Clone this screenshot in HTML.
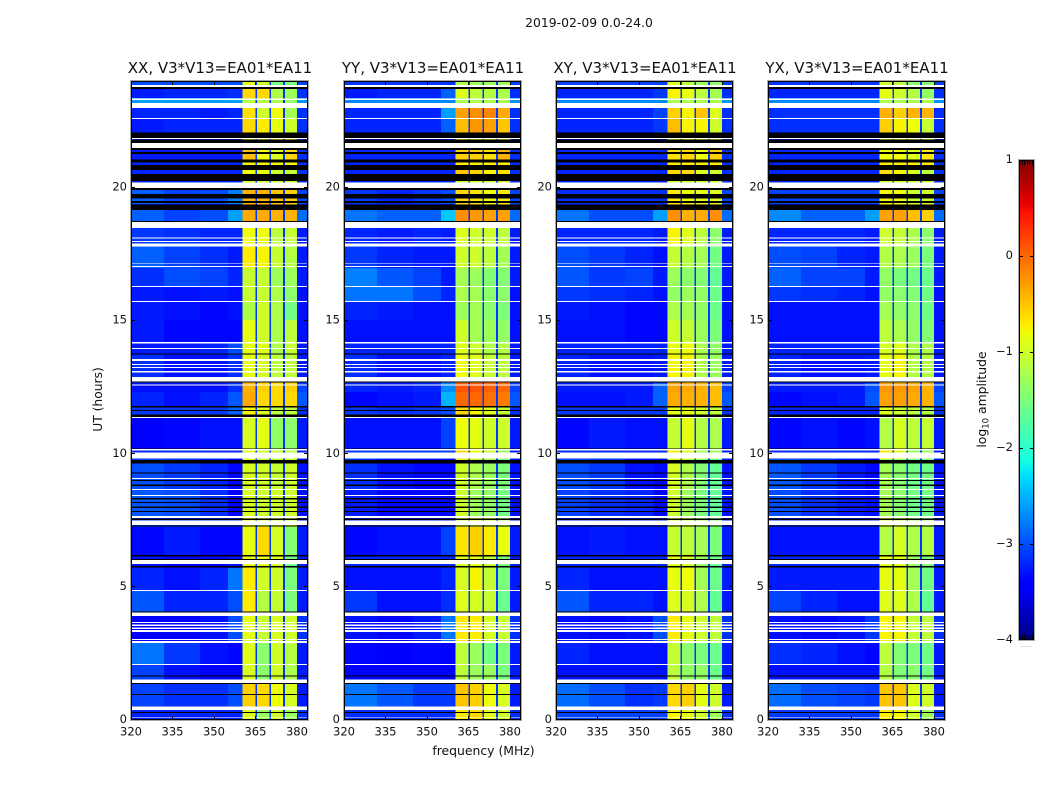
<!DOCTYPE html>
<html lang="en">
<head>
<meta charset="utf-8">
<title>2019-02-09 0.0-24.0</title>
<style>
html,body{margin:0;padding:0;background:#fff;width:1050px;height:800px;overflow:hidden}
svg{display:block}
text{font-family:"DejaVu Sans","Liberation Sans",sans-serif;fill:#111}
</style>
</head>
<body>
<svg id="chart" xmlns="http://www.w3.org/2000/svg" width="1050" height="800" viewBox="0 0 1050 800"></svg>
<script>
// ---------- data ----------
const figureTitle = "2019-02-09 0.0-24.0";
const panelNames = ["XX", "YY", "XY", "YX"];
const baselineName = "V3*V13=EA01*EA11";
const freqTicks = [320, 335, 350, 365, 380];
const hourTicks = [0, 5, 10, 15, 20];
const colorTicks = [-4, -3, -2, -1, 0, 1];

// frequency column edges (MHz): four background columns, then bands split by narrow gaps
const bgEdges = [320, 332, 345, 355, 360.4];
const bandEdges = [[360.4, 365], [365.5, 370], [370.6, 375], [375.6, 380]];
const gapEdges = [[365, 365.5], [370, 370.6], [375, 375.6]];
const rightEdges = [380, 384];
const gapValues = [-3.1];

// time row edges (hours UT)
const rowEdges = [0,.49,1.43,2.07,2.93,4.02,4.88,5.71,6.20,7.25,7.66,8.64,9.80,10.18,11.34,11.79,12.32,12.66,12.88,13.71,14.20,15.02,15.74,16.26,16.98,17.80,18.48,18.74,19.15,19.38,19.91,20.24,20.66,20.96,21.41,22.05,22.57,22.99,23.36,23.74,24];

// log10 amplitude of the channels above 380 MHz, per time row
const rightValues = [-3.15,-3.25,-3.25,-3.25,-3.15,-3.25,-3.25,-3.25,-3.25,-3.25,-3.3,-3.3,-3.25,-3.25,-3.15,-2.95,-3.05,-3.15,-3.25,-3.25,-3.3,-3.3,-3.3,-3.25,-3.25,-3.25,-3.25,-2.85,-3.15,-3.05,-3.15,-3.15,-3.15,-3.15,-3.15,-3.15,-3.15,-2.65,-3.15,-3.05];

// log10 amplitude per time row: 4 background columns then 4 band columns
const xxRows = [
[-3.2,-3.2,-3.2,-3.2,-0.9,-1.3,-1.0,-1.3],
[-3.05,-3.15,-3.15,-3.0,-0.55,-0.6,-0.8,-0.95],
[-3.05,-3.3,-3.4,-3.4,-0.95,-1.4,-1.0,-1.2],
[-2.8,-3.1,-3.3,-3.35,-0.9,-1.4,-1.0,-1.15],
[-3.4,-3.4,-3.3,-3.0,-0.85,-1.05,-0.95,-1.0],
[-2.95,-3.2,-3.2,-3.0,-0.7,-1.15,-1.05,-1.5],
[-3.2,-3.3,-3.2,-2.8,-0.7,-1.0,-1.0,-1.5],
[-3.3,-3.4,-3.4,-3.3,-0.8,-0.85,-0.9,-1.6],
[-3.35,-3.25,-3.35,-3.35,-0.85,-0.6,-0.95,-1.45],
[-3.1,-3.1,-3.1,-3.1,-0.8,-0.9,-1.0,-1.0],
[-2.95,-3.0,-3.15,-3.4,-0.95,-1.0,-1.0,-1.0],
[-3.0,-3.1,-3.2,-3.35,-0.95,-1.0,-1.05,-1.0],
[-3.2,-3.2,-3.2,-3.2,-0.9,-1.0,-1.0,-1.1],
[-3.4,-3.35,-3.3,-3.3,-0.95,-0.85,-1.35,-1.4],
[-3.1,-3.1,-3.1,-2.9,-0.75,-0.9,-1.1,-1.1],
[-3.2,-3.3,-3.2,-2.95,-0.35,-0.6,-0.6,-0.6],
[-3.3,-3.3,-3.3,-3.15,-0.4,-0.55,-0.6,-0.55],
[-3.1,-3.1,-3.1,-3.1,-0.6,-0.6,-0.6,-0.6],
[-3.15,-3.3,-3.3,-3.15,-0.85,-0.95,-1.1,-1.1],
[-3.25,-3.25,-3.2,-3.0,-0.85,-0.9,-1.2,-1.05],
[-3.25,-3.35,-3.35,-3.35,-0.85,-1.0,-1.2,-1.1],
[-3.25,-3.3,-3.35,-3.3,-1.2,-1.0,-1.2,-1.55],
[-3.25,-3.3,-3.25,-3.3,-1.05,-1.05,-1.2,-1.4],
[-3.15,-3.0,-3.05,-3.2,-1.05,-1.05,-1.3,-1.3],
[-2.9,-3.05,-3.15,-3.25,-0.7,-0.75,-1.05,-1.15],
[-3.1,-3.15,-3.2,-3.2,-0.8,-0.8,-1.1,-1.05],
[-3.2,-3.2,-3.2,-3.2,-1.0,-1.0,-1.0,-1.0],
[-2.9,-3.05,-3.0,-2.6,-0.35,-0.35,-0.4,-0.4],
[-3.2,-3.2,-3.2,-3.2,-0.4,-0.5,-0.5,-0.5],
[-2.9,-3.05,-3.0,-2.75,-0.4,-0.4,-0.5,-0.55],
[-3.2,-3.2,-3.2,-3.2,-1.0,-1.0,-1.0,-1.0],
[-3.2,-3.2,-3.2,-3.2,-0.8,-0.85,-1.0,-1.05],
[-3.2,-3.2,-3.2,-3.2,-0.75,-0.75,-0.75,-0.75],
[-3.25,-3.25,-3.25,-3.25,-0.45,-0.8,-0.9,-0.6],
[-3.2,-3.2,-3.2,-3.2,-0.7,-0.7,-0.7,-0.7],
[-3.25,-3.2,-3.2,-3.2,-0.6,-0.7,-0.85,-1.0],
[-3.2,-3.2,-3.25,-3.2,-0.65,-1.0,-0.8,-1.25],
[-2.6,-2.6,-2.6,-2.6,-1.1,-1.1,-1.2,-1.3],
[-3.25,-3.2,-3.2,-3.15,-0.6,-0.6,-1.2,-1.3],
[-3.0,-3.0,-3.0,-3.0,-0.9,-1.0,-1.5,-1.5]];

const yyRows = [
[-3.15,-3.15,-3.15,-3.15,-0.7,-0.6,-0.9,-1.0],
[-2.8,-2.95,-3.1,-3.1,-0.5,-0.55,-0.8,-0.95],
[-3.4,-3.4,-3.4,-3.4,-1.1,-1.3,-1.3,-1.5],
[-3.35,-3.4,-3.35,-3.4,-1.1,-1.3,-1.55,-1.5],
[-3.3,-3.35,-3.25,-2.8,-0.7,-0.7,-0.95,-1.05],
[-3.1,-3.3,-3.3,-3.15,-0.9,-0.95,-1.05,-1.6],
[-3.3,-3.3,-3.3,-3.2,-0.95,-0.75,-1.05,-1.5],
[-3.2,-3.2,-3.2,-3.2,-0.9,-0.85,-1.05,-1.5],
[-3.35,-3.3,-3.3,-3.05,-0.65,-0.55,-0.7,-0.85],
[-3.2,-3.2,-3.2,-3.2,-0.9,-0.9,-1.0,-1.1],
[-3.25,-3.35,-3.35,-3.35,-1.0,-1.3,-1.35,-1.55],
[-3.15,-3.3,-3.35,-3.35,-1.0,-1.2,-1.3,-1.5],
[-3.1,-3.1,-3.1,-3.1,-0.6,-0.8,-1.0,-1.3],
[-3.3,-3.3,-3.3,-3.05,-0.8,-0.85,-1.0,-1.0],
[-3.1,-3.15,-3.1,-3.0,-0.6,-0.75,-0.9,-1.05],
[-3.35,-3.3,-3.25,-2.5,0.0,0.0,-0.05,-0.1],
[-3.2,-3.25,-3.2,-2.7,0.1,0.1,0.05,0.0],
[-3.1,-3.2,-3.1,-2.7,-0.2,-0.2,-0.2,-0.2],
[-3.15,-3.3,-3.3,-3.2,-0.8,-0.9,-1.05,-1.1],
[-3.2,-3.2,-3.2,-3.2,-0.9,-1.0,-1.2,-1.15],
[-3.3,-3.3,-3.3,-3.3,-1.0,-1.25,-1.3,-1.35],
[-3.2,-3.25,-3.3,-3.3,-1.3,-1.25,-1.4,-1.5],
[-2.8,-2.8,-3.0,-3.2,-1.2,-1.25,-1.4,-1.4],
[-2.75,-2.95,-3.05,-3.25,-1.25,-1.3,-1.45,-1.45],
[-3.1,-3.2,-3.25,-3.25,-1.0,-1.0,-1.1,-1.25],
[-3.2,-3.25,-3.2,-3.25,-0.9,-1.0,-1.0,-1.1],
[-3.2,-3.2,-3.2,-3.2,-0.9,-0.9,-0.9,-0.9],
[-2.8,-2.9,-2.9,-2.4,-0.2,-0.25,-0.3,-0.3],
[-3.2,-3.2,-3.2,-3.2,-0.5,-0.5,-0.5,-0.5],
[-3.1,-3.2,-3.1,-3.0,-0.6,-0.65,-0.8,-0.7],
[-3.2,-3.2,-3.2,-3.2,-1.0,-1.0,-1.0,-1.0],
[-3.2,-3.2,-3.2,-3.2,-0.5,-0.55,-0.75,-0.65],
[-3.2,-3.2,-3.2,-3.2,-0.7,-0.7,-0.7,-0.7],
[-3.2,-3.2,-3.2,-3.2,-0.55,-0.55,-0.65,-0.4],
[-3.2,-3.2,-3.2,-3.2,-0.8,-0.8,-0.8,-0.8],
[-3.2,-3.2,-3.2,-2.9,-0.45,-0.25,-0.3,-0.5],
[-3.2,-3.2,-3.2,-2.6,-0.3,-0.2,-0.15,-0.35],
[-2.7,-2.7,-2.7,-2.7,-1.2,-1.2,-1.2,-1.2],
[-3.25,-3.2,-3.2,-2.9,-0.9,-1.1,-1.15,-1.2],
[-3.1,-3.1,-3.1,-3.1,-1.2,-1.3,-1.3,-1.3]];

const xyRows = [
[-3.05,-3.05,-3.05,-3.05,-0.75,-0.85,-1.0,-1.3],
[-2.85,-3.0,-3.15,-3.1,-0.6,-0.55,-0.85,-1.0],
[-3.3,-3.3,-3.3,-3.3,-1.1,-1.35,-1.35,-1.6],
[-3.2,-3.3,-3.3,-3.3,-1.05,-1.4,-1.5,-1.6],
[-3.3,-3.35,-3.3,-3.0,-0.7,-0.85,-1.0,-1.1],
[-2.95,-3.2,-3.2,-3.3,-0.9,-0.95,-1.2,-1.65],
[-3.2,-3.3,-3.3,-3.3,-0.85,-0.8,-1.25,-1.6],
[-3.2,-3.2,-3.2,-3.2,-0.85,-0.9,-1.3,-1.6],
[-3.3,-3.25,-3.3,-3.3,-1.05,-1.1,-1.25,-1.5],
[-3.2,-3.2,-3.2,-3.2,-0.9,-1.0,-1.2,-1.4],
[-3.05,-3.15,-3.2,-3.35,-1.0,-1.3,-1.5,-1.65],
[-3.0,-3.1,-3.3,-3.35,-0.95,-1.2,-1.45,-1.65],
[-3.2,-3.2,-3.2,-3.2,-0.7,-0.9,-1.2,-1.3],
[-3.35,-3.25,-3.3,-3.3,-1.05,-0.85,-1.15,-1.2],
[-3.1,-3.1,-3.1,-3.1,-0.85,-0.85,-1.0,-1.1],
[-3.3,-3.3,-3.25,-2.9,-0.35,-0.4,-0.4,-0.45],
[-3.25,-3.25,-3.25,-2.9,-0.3,-0.35,-0.4,-0.45],
[-3.2,-3.2,-3.2,-3.2,-0.6,-0.6,-0.6,-0.6],
[-3.2,-3.3,-3.3,-3.25,-0.75,-0.75,-1.2,-1.3],
[-3.2,-3.2,-3.2,-3.2,-0.85,-0.8,-1.2,-1.35],
[-3.3,-3.3,-3.35,-3.35,-1.0,-1.05,-1.3,-1.5],
[-3.25,-3.3,-3.35,-3.35,-1.2,-1.25,-1.35,-1.6],
[-3.1,-3.15,-3.2,-3.3,-1.35,-1.3,-1.35,-1.6],
[-2.95,-3.1,-3.05,-3.25,-1.3,-1.4,-1.45,-1.65],
[-3.0,-3.1,-3.2,-3.3,-1.05,-1.15,-1.25,-1.55],
[-3.2,-3.2,-3.2,-3.25,-0.75,-0.9,-1.1,-1.4],
[-3.2,-3.2,-3.2,-3.2,-0.8,-0.8,-0.8,-0.8],
[-2.8,-3.0,-3.0,-2.6,-0.2,-0.4,-0.35,-0.2],
[-3.2,-3.2,-3.2,-3.2,-0.5,-0.5,-0.5,-0.5],
[-3.15,-3.15,-3.15,-3.15,-0.7,-0.8,-0.85,-0.9],
[-3.2,-3.2,-3.2,-3.2,-1.0,-1.0,-1.0,-1.0],
[-3.2,-3.2,-3.2,-3.2,-0.6,-0.6,-0.9,-1.0],
[-3.2,-3.2,-3.2,-3.2,-0.7,-0.7,-0.7,-0.7],
[-3.2,-3.2,-3.2,-3.2,-0.65,-0.6,-0.8,-0.55],
[-3.2,-3.2,-3.2,-3.2,-0.9,-0.9,-0.9,-0.9],
[-3.2,-3.2,-3.2,-3.1,-0.45,-0.75,-0.75,-1.0],
[-3.2,-3.2,-3.2,-3.05,-0.55,-0.75,-0.5,-0.9],
[-2.7,-2.7,-2.7,-2.7,-1.2,-1.2,-1.2,-1.2],
[-3.2,-3.2,-3.2,-3.1,-0.75,-0.85,-1.1,-1.25],
[-3.05,-3.05,-3.05,-3.05,-0.9,-1.1,-1.3,-1.4]];

const yxRows = [
[-3.1,-3.1,-3.1,-3.1,-0.7,-0.75,-1.0,-1.3],
[-2.85,-3.0,-3.05,-3.1,-0.5,-0.5,-0.9,-1.0],
[-3.3,-3.3,-3.3,-3.3,-1.15,-1.45,-1.4,-1.55],
[-3.15,-3.2,-3.3,-3.35,-1.1,-1.45,-1.5,-1.55],
[-3.3,-3.35,-3.3,-3.1,-0.75,-0.75,-1.05,-1.1],
[-3.05,-3.2,-3.3,-3.3,-0.9,-0.9,-1.2,-1.65],
[-3.25,-3.25,-3.25,-3.25,-0.85,-0.85,-1.25,-1.55],
[-3.2,-3.2,-3.2,-3.2,-0.85,-0.9,-1.3,-1.5],
[-3.3,-3.3,-3.3,-3.3,-1.15,-0.95,-1.2,-1.15],
[-3.2,-3.2,-3.2,-3.2,-0.9,-1.0,-1.2,-1.3],
[-3.0,-3.15,-3.25,-3.3,-1.25,-1.4,-1.55,-1.55],
[-2.95,-3.1,-3.25,-3.35,-1.25,-1.4,-1.55,-1.55],
[-3.2,-3.2,-3.2,-3.2,-0.7,-0.9,-1.3,-1.3],
[-3.35,-3.3,-3.35,-3.3,-1.15,-0.95,-1.1,-1.05],
[-3.2,-3.2,-3.2,-3.2,-0.9,-1.0,-1.1,-1.2],
[-3.35,-3.3,-3.25,-2.95,-0.3,-0.3,-0.35,-0.4],
[-3.25,-3.25,-3.25,-3.0,-0.25,-0.25,-0.3,-0.4],
[-3.2,-3.2,-3.2,-3.2,-0.7,-0.7,-0.7,-0.7],
[-3.2,-3.3,-3.3,-3.25,-0.85,-0.75,-1.15,-1.15],
[-3.2,-3.2,-3.2,-3.2,-0.95,-0.9,-1.2,-1.2],
[-3.3,-3.3,-3.3,-3.3,-1.1,-1.2,-1.35,-1.45],
[-3.3,-3.3,-3.3,-3.3,-1.25,-1.35,-1.4,-1.55],
[-3.1,-3.15,-3.2,-3.3,-1.35,-1.4,-1.45,-1.55],
[-2.9,-3.05,-3.05,-3.25,-1.35,-1.5,-1.55,-1.6],
[-3.0,-3.05,-3.2,-3.25,-1.15,-1.2,-1.3,-1.5],
[-3.2,-3.2,-3.2,-3.25,-1.0,-1.05,-1.2,-1.4],
[-3.2,-3.2,-3.2,-3.2,-0.9,-0.9,-0.9,-0.9],
[-2.7,-2.9,-2.9,-2.6,-0.3,-0.3,-0.45,-0.55],
[-3.2,-3.2,-3.2,-3.2,-0.6,-0.6,-0.6,-0.6],
[-3.05,-3.05,-3.05,-3.05,-0.75,-0.8,-1.0,-1.0],
[-3.2,-3.2,-3.2,-3.2,-1.0,-1.0,-1.0,-1.0],
[-3.2,-3.2,-3.2,-3.2,-0.65,-0.75,-0.95,-1.1],
[-3.2,-3.2,-3.2,-3.2,-0.7,-0.7,-0.7,-0.7],
[-3.2,-3.2,-3.2,-3.2,-0.8,-0.8,-0.9,-0.7],
[-3.2,-3.2,-3.2,-3.2,-0.9,-0.9,-0.9,-0.9],
[-3.15,-3.15,-3.15,-3.15,-0.55,-0.75,-0.8,-1.05],
[-3.15,-3.15,-3.15,-3.15,-0.4,-0.55,-0.4,-0.4],
[-2.7,-2.7,-2.7,-2.7,-1.2,-1.2,-1.2,-1.2],
[-3.2,-3.2,-3.2,-3.2,-0.85,-1.0,-1.15,-1.35],
[-3.1,-3.1,-3.1,-3.1,-1.0,-1.1,-1.4,-1.45]];

// flagged time ranges (hours UT) shared by every panel
const whiteFlags = [[.09,.12],[.38,.50],[1.39,1.53],[2.07,2.11],[2.90,2.96],[3.00,3.05],[3.31,3.38],[3.42,3.47],[3.53,3.58],[3.64,3.69],[3.91,4.04],[4.85,4.88],[5.86,6.01],[7.32,7.49],[7.59,7.66],[8.41,8.45],[8.64,8.68],[9.05,9.09],[9.83,10.04],[10.13,10.17],[11.35,11.39],[12.56,12.61],[12.72,12.89],[13.06,13.10],[13.22,13.26],[13.34,13.38],[13.49,13.56],[13.93,13.98],[14.15,14.20],[15.70,15.74],[16.26,16.30],[17.01,17.05],[17.12,17.15],[17.79,17.89],[17.95,18.00],[18.08,18.13],[18.48,18.70],[19.98,20.18],[21.48,21.68],[21.82,21.86],[22.57,22.61],[22.99,23.18],[23.29,23.35],[23.77,23.85]];
const blackFlags = [[.26,.30],[.94,.98],[1.35,1.39],[1.64,1.68],[4.04,4.08],[5.72,5.78],[6.01,6.05],[6.15,6.19],[7.26,7.30],[7.51,7.56],[7.81,7.85],[7.97,8.01],[8.15,8.19],[8.29,8.33],[8.79,8.84],[8.98,9.01],[9.25,9.29],[9.64,9.77],[10.17,10.20],[11.39,11.48],[11.60,11.64],[11.74,11.79],[12.67,12.72],[13.72,13.77],[18.70,18.75],[19.15,19.37],[19.42,19.49],[19.58,19.76],[19.91,19.98],[20.24,20.51],[20.66,20.85],[20.93,21.06],[21.26,21.33],[21.41,21.48],[21.68,21.81],[21.85,22.06],[23.70,23.77]];

// ---------- layout ----------
const panelRows = [xxRows, yyRows, xyRows, yxRows];
const panelLefts = [131, 344, 556, 768];
const panelWidth = 177;
const plotTop = 81;
const plotBottom = 720;
const freqMin = 320, freqMax = 384;
const hourMin = 0, hourMax = 24;
const cbLeft = 1019, cbRight = 1034, cbTop = 160, cbBottom = 640;
const cbMin = -4, cbMax = 1;

const svg = document.getElementById('chart');
const NS = 'http://www.w3.org/2000/svg';

function xScale(left, f) { return left + (f - freqMin) / (freqMax - freqMin) * panelWidth; }
function yScale(h) { return plotBottom - (h - hourMin) / (hourMax - hourMin) * (plotBottom - plotTop); }
function cbScale(v) { return cbBottom - (v - cbMin) / (cbMax - cbMin) * (cbBottom - cbTop); }

function lerpStops(t, stops) {
  if (t <= stops[0][0]) return stops[0][1];
  for (let i = 1; i < stops.length; i++) {
    if (t <= stops[i][0]) {
      const a = stops[i - 1], b = stops[i];
      return a[1] + (b[1] - a[1]) * (t - a[0]) / (b[0] - a[0]);
    }
  }
  return stops[stops.length - 1][1];
}
const jetR = [[0, 0], [.35, 0], [.66, 1], [.89, 1], [1, .5]];
const jetG = [[0, 0], [.125, 0], [.375, 1], [.64, 1], [.91, 0], [1, 0]];
const jetB = [[0, .5], [.11, 1], [.34, 1], [.65, 0], [1, 0]];
function jet(v) {
  const t = Math.max(0, Math.min(1, (v - cbMin) / (cbMax - cbMin)));
  const r = Math.round(255 * lerpStops(t, jetR));
  const g = Math.round(255 * lerpStops(t, jetG));
  const b = Math.round(255 * lerpStops(t, jetB));
  return 'rgb(' + r + ',' + g + ',' + b + ')';
}

function makeRect(parent, x, y, w, h, fill) {
  const r = document.createElementNS(NS, 'rect');
  r.setAttribute('x', x.toFixed(2));
  r.setAttribute('y', y.toFixed(2));
  r.setAttribute('width', Math.max(w, 0).toFixed(2));
  r.setAttribute('height', Math.max(h, 0).toFixed(2));
  r.setAttribute('fill', fill);
  parent.appendChild(r);
  return r;
}
function makeLine(parent, x1, y1, x2, y2, color) {
  const l = document.createElementNS(NS, 'line');
  l.setAttribute('x1', x1);
  l.setAttribute('y1', y1);
  l.setAttribute('x2', x2);
  l.setAttribute('y2', y2);
  l.setAttribute('stroke', color);
  l.setAttribute('stroke-width', '1');
  parent.appendChild(l);
  return l;
}
function makeText(parent, x, y, str, size, anchor) {
  const t = document.createElementNS(NS, 'text');
  t.setAttribute('x', x);
  t.setAttribute('y', y);
  t.setAttribute('font-size', size);
  t.setAttribute('text-anchor', anchor);
  t.textContent = str;
  parent.appendChild(t);
  return t;
}

// figure title
const supTitle = makeText(svg, 589, 27, figureTitle, 12.4, 'middle');



panelNames.forEach(function (name, p) {
  const left = panelLefts[p];
  const right = left + panelWidth;
  const rows = panelRows[p];

  const g = document.createElementNS(NS, 'g');
  
  
  svg.appendChild(g);

  const cells = document.createElementNS(NS, 'g');
  cells.setAttribute('shape-rendering', 'crispEdges');
  
  
  g.appendChild(cells);

  rows.forEach(function (vals, i) {
    const y0 = yScale(rowEdges[i + 1]);
    const h = yScale(rowEdges[i]) - y0;
    for (let c = 0; c < bgEdges.length - 1; c++) {
      const x0 = xScale(left, bgEdges[c]);
      const cell = makeRect(cells, x0, y0, xScale(left, bgEdges[c + 1]) - x0, h, jet(vals[c]));
      
      
    }
    bandEdges.forEach(function (be, b) {
      const x0 = xScale(left, be[0]);
      const cell = makeRect(cells, x0, y0, xScale(left, be[1]) - x0, h, jet(vals[bgEdges.length - 1 + b]));
      
      
    });
    gapEdges.forEach(function (ge) {
      const x0 = xScale(left, ge[0]);
      const cell = makeRect(cells, x0, y0, xScale(left, ge[1]) - x0, h, jet(gapValues[0]));
      
      
    });
    const xr = xScale(left, rightEdges[0]);
    const rc = makeRect(cells, xr, y0, xScale(left, rightEdges[1]) - xr, h, jet(rightValues[i]));
    
    
  });

  whiteFlags.forEach(function (f) {
    const y0 = yScale(f[1]);
    const m = makeRect(cells, left, y0, panelWidth, yScale(f[0]) - y0, '#ffffff');
    
    
  });
  blackFlags.forEach(function (f) {
    const y0 = yScale(f[1]);
    const m = makeRect(cells, left, y0, panelWidth, yScale(f[0]) - y0, '#000000');
    
    
  });

  // frame: gray halo with a black inner line
  const outer = document.createElementNS(NS, 'rect');
  outer.setAttribute('x', left - 0.5);
  outer.setAttribute('y', plotTop - 0.5);
  outer.setAttribute('width', panelWidth + 1);
  outer.setAttribute('height', plotBottom - plotTop + 1);
  outer.setAttribute('fill', 'none');
  outer.setAttribute('stroke', '#a8a8a8');
  
  
  g.appendChild(outer);
  const frame = document.createElementNS(NS, 'rect');
  frame.setAttribute('x', left + 0.5);
  frame.setAttribute('y', plotTop + 0.5);
  frame.setAttribute('width', panelWidth - 1);
  frame.setAttribute('height', plotBottom - plotTop - 1);
  frame.setAttribute('fill', 'none');
  frame.setAttribute('stroke', '#000');
  
  
  g.appendChild(frame);

  freqTicks.forEach(function (f) {
    const x = Math.round(xScale(left, f)) + 0.5;
    const t1 = makeLine(g, x, plotBottom, x, plotBottom - 4, '#000');
    
    
    const t2 = makeLine(g, x, plotTop, x, plotTop + 4, '#000');
    
    
    const lab = makeText(g, xScale(left, f), 735.5, String(f), 11.5, 'middle');
    
    
  });
  hourTicks.forEach(function (h) {
    const y = Math.round(yScale(h)) - 0.5;
    const t1 = makeLine(g, left, y, left + 4, y, '#000');
    
    
    const t2 = makeLine(g, right, y, right - 4, y, '#000');
    
    
    const lab = makeText(g, left - 4, yScale(h) + 3, String(h), 11.5, 'end');
    
    
  });

  const title = makeText(g, left + panelWidth / 2 + 0.5, 73, name + ', ' + baselineName, 15, 'middle');
  
  
});

// shared axis titles
const xTitle = makeText(svg, 483.5, 755, 'frequency (MHz)', 12.4, 'middle');


const yTitle = makeText(svg, 0, 0, 'UT (hours)', 12.3, 'middle');
yTitle.setAttribute('transform', 'translate(102,399.5) rotate(-90)');



// colorbar
const cbGroup = document.createElementNS(NS, 'g');


svg.appendChild(cbGroup);
const cbSteps = 240;
const cbCells = document.createElementNS(NS, 'g');
cbCells.setAttribute('shape-rendering', 'crispEdges');


cbGroup.appendChild(cbCells);
for (let i = 0; i < cbSteps; i++) {
  const v0 = cbMin + (cbMax - cbMin) * i / cbSteps;
  const v1 = cbMin + (cbMax - cbMin) * (i + 1) / cbSteps;
  const y1 = cbScale(v1);
  const s = makeRect(cbCells, cbLeft, y1, cbRight - cbLeft, cbScale(v0) - y1 + 0.5, jet((v0 + v1) / 2));
  
  
}
const cbHalo = document.createElementNS(NS, 'rect');
cbHalo.setAttribute('x', cbLeft - 0.5);
cbHalo.setAttribute('y', cbTop - 0.5);
cbHalo.setAttribute('width', cbRight - cbLeft + 1);
cbHalo.setAttribute('height', cbBottom - cbTop + 1);
cbHalo.setAttribute('fill', 'none');
cbHalo.setAttribute('stroke', '#a8a8a8');


cbGroup.appendChild(cbHalo);
const cbFrame = document.createElementNS(NS, 'rect');
cbFrame.setAttribute('x', cbLeft + 0.5);
cbFrame.setAttribute('y', cbTop + 0.5);
cbFrame.setAttribute('width', cbRight - cbLeft - 1);
cbFrame.setAttribute('height', cbBottom - cbTop - 1);
cbFrame.setAttribute('fill', 'none');
cbFrame.setAttribute('stroke', '#000');


cbGroup.appendChild(cbFrame);
colorTicks.forEach(function (v) {
  const y = Math.round(cbScale(v)) + (v === cbMin ? -0.5 : 0.5);
  const a = makeLine(cbGroup, cbLeft, y, cbLeft + 4, y, '#000');
  
  
  const b = makeLine(cbGroup, cbRight, y, cbRight - 4, y, '#000');
  
  
  const label = (v < 0 ? '\u2212' + Math.abs(v) : String(v));
  const lab = makeText(cbGroup, 1013, cbScale(v) + 3, label, 11.5, 'end');
  
  
});
for (let i = 1; i <= 5; i++) {
  const x = Math.round(cbLeft + (cbRight - cbLeft) * i / 6) + 0.5;
  const a = makeLine(cbGroup, x, cbTop, x, cbTop + 5, '#000');
  
  
  const b = makeLine(cbGroup, x, cbBottom, x, cbBottom - 5, '#000');
  
  
}
const cbDots = makeText(cbGroup, 1026, 647, '......', 6, 'middle');
cbDots.style.fill = '#888';



const cbTitle = makeText(svg, 0, 0, 'log', 12.4, 'middle');
cbTitle.setAttribute('transform', 'translate(986,399.5) rotate(-90)');


const subT = document.createElementNS(NS, 'tspan');
subT.setAttribute('font-size', '8.5');
subT.setAttribute('dy', '2.5');
subT.textContent = '10';
cbTitle.appendChild(subT);
const restT = document.createElementNS(NS, 'tspan');
restT.setAttribute('dy', '-2.5');
restT.textContent = ' amplitude';
cbTitle.appendChild(restT);
</script>
</body>
</html>
